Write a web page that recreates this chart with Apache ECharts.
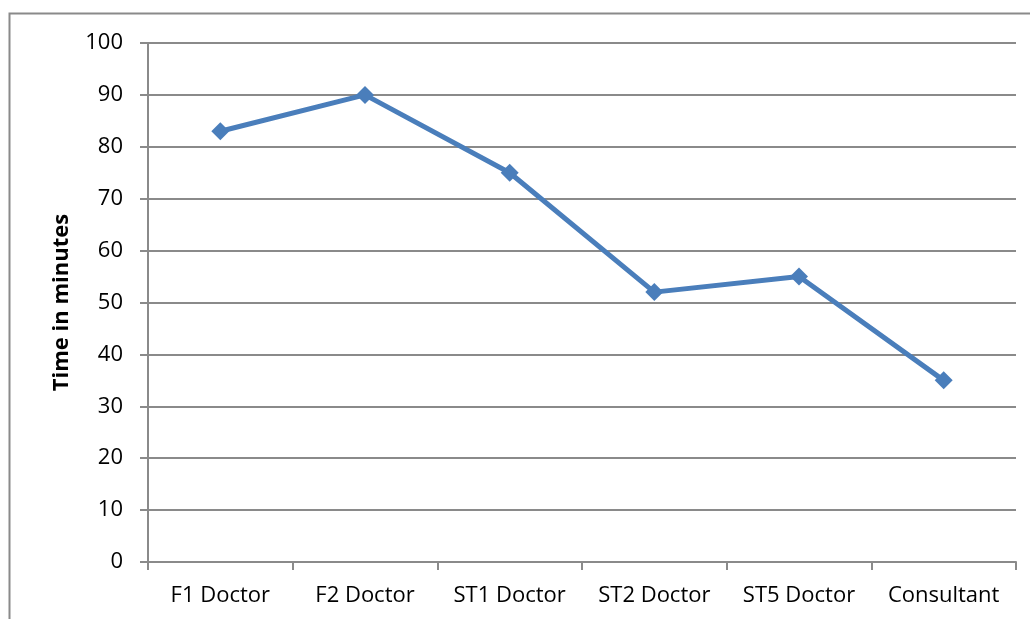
<!DOCTYPE html>
<html>
<head>
<meta charset="utf-8">
<script src="https://cdn.jsdelivr.net/npm/echarts@6/dist/echarts.min.js"></script>
<style>
	html, body { margin: 0; padding: 0; background: #fff; }
	#chart { width: 1030px; height: 619px; }
</style>
</head>
<body>
<div id="chart"></div>
<script>
var categories = ['F1 Doctor', 'F2 Doctor', 'ST1 Doctor', 'ST2 Doctor', 'ST5 Doctor', 'Consultant'];
var timeValues = [83, 90, 75, 52, 55, 35];
var yAxisTitle = 'Time in minutes';

var myChart = echarts.init(document.getElementById('chart'));
var option = {
	backgroundColor: '#fff',
	animation: false,
	textStyle: { fontFamily: '"Open Sans", Lato, sans-serif' },
	// outer chart border
	graphic: [{
		type: 'rect',
		shape: { x: 9.5, y: 13.5, width: 1040, height: 640 },
		style: { fill: 'none', stroke: '#8a8a8a', lineWidth: 2 },
		silent: true
	}],
	grid: { left: 148, right: 14, top: 43, bottom: 57 },
	xAxis: {
		type: 'category',
		data: categories,
		boundaryGap: true,
		axisLine: { lineStyle: { color: '#8a8a8a', width: 2 } },
		axisTick: { show: true, length: 8, lineStyle: { color: '#8a8a8a', width: 2 } },
		axisLabel: { color: '#000', fontSize: 22, margin: 23, interval: 0 }
	},
	yAxis: {
		type: 'value',
		min: 0,
		max: 100,
		interval: 10,
		name: yAxisTitle,
		nameLocation: 'middle',
		nameGap: 75,
		nameRotate: 90,
		nameTextStyle: { color: '#000', fontSize: 22, fontWeight: 'bold' },
		axisLine: { show: true, lineStyle: { color: '#8a8a8a', width: 2 } },
		axisTick: { show: true, length: 8, lineStyle: { color: '#8a8a8a', width: 2 } },
		axisLabel: { color: '#000', fontSize: 22, margin: 25 },
		splitLine: { lineStyle: { color: '#8a8a8a', width: 2 } }
	},
	series: [{
		type: 'line',
		data: timeValues,
		symbol: 'diamond',
		symbolSize: 18,
		color: '#4a7ebb',
		lineStyle: { width: 5, color: '#4a7ebb' },
		itemStyle: { color: '#4a7ebb' }
	}]
};
myChart.setOption(option);
window.addEventListener("resize", function() {
	myChart.resize();
});
</script>
</body>
</html>
